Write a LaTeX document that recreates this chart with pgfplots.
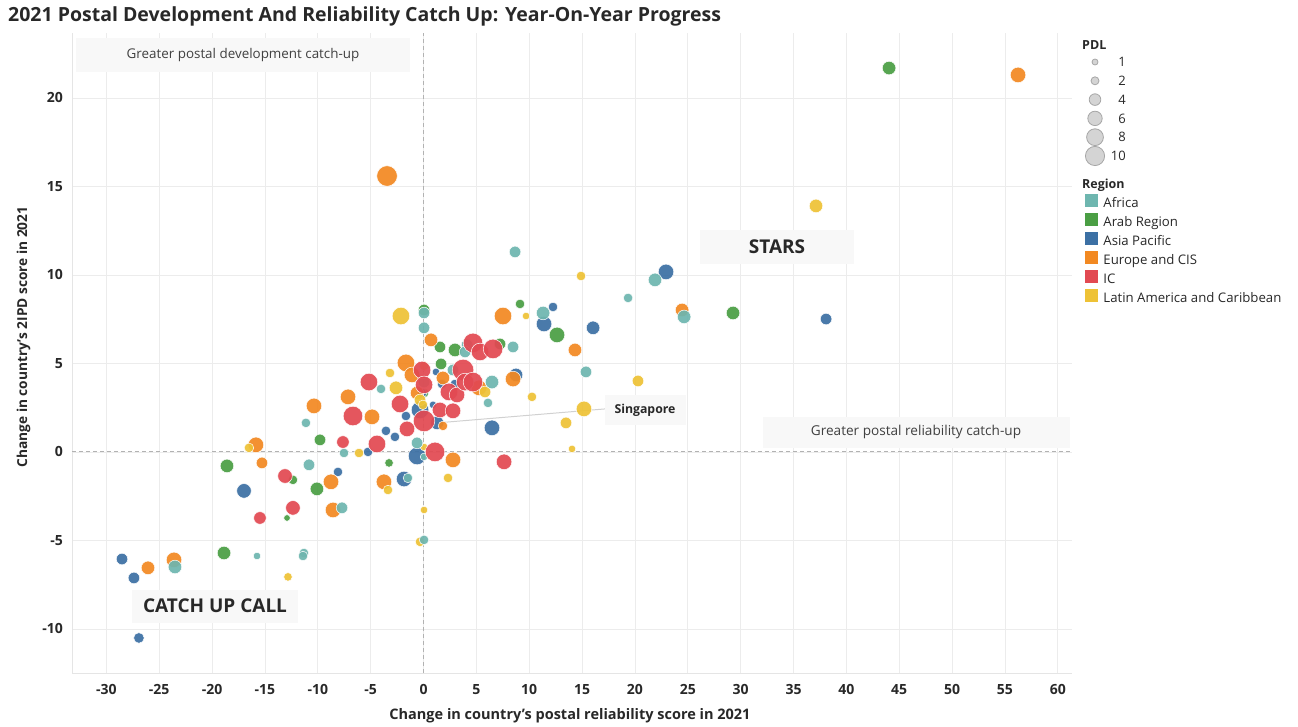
\documentclass[border=0pt]{standalone}
\usepackage{pgfplots}
\pgfplotsset{compat=1.18}
\usepackage{pgfplotstable}
\usepackage{fontspec}
\setmainfont{Open Sans}
\definecolor{africa}{RGB}{110,182,175}
\definecolor{arab}{RGB}{74,158,68}
\definecolor{asia}{RGB}{60,112,164}
\definecolor{europe}{RGB}{242,137,34}
\definecolor{ic}{RGB}{226,73,82}
\definecolor{latin}{RGB}{238,194,54}
\definecolor{boxfill}{RGB}{248,248,248}
\definecolor{txt}{RGB}{40,40,40}
\definecolor{gridc}{RGB}{236,236,236}

\pgfplotstableread{
x y r
-23.51 -6.50 6
-15.75 -5.88 3
-11.31 -5.71 4
-11.40 -5.88 4
-11.12 1.64 4
-10.83 -0.73 5
-7.71 -3.16 5
-7.52 -0.06 4
-4.02 3.56 4
-1.47 -1.47 4
-0.61 0.51 5
0.05 7.85 5
0.05 7.01 5
0.05 3.95 5
0.05 -4.97 4
2.79 4.63 5
4.12 6.05 5
3.93 5.65 5
6.48 3.95 6
6.10 2.77 4
8.47 5.93 5
8.66 11.30 5
11.31 7.85 6
15.37 4.52 5
19.35 8.70 4
21.90 9.72 6
24.65 7.63 6
0.05 -0.28 3
}\tabAfrica

\pgfplotstableread{
x y r
-18.87 -5.71 6
-18.59 -0.79 6
-12.35 -1.58 4
-12.91 -3.73 2.5
-9.79 0.68 5
-10.08 -2.09 6
-3.26 -0.62 3.5
0.05 8.02 5
0.05 3.33 4
1.56 5.93 5
1.66 4.97 5
2.98 5.76 6
7.24 6.10 5
9.13 8.36 4
12.63 6.61 7
29.28 7.85 6
44.04 21.69 6
}\tabArab

\pgfplotstableread{
x y r
-28.52 -6.05 5
-27.39 -7.12 5
-26.92 -10.51 4.5
-16.98 -2.20 6.5
-8.09 -1.13 4
-5.25 0.00 4
-3.55 1.19 4
-2.70 0.85 4
-1.84 -1.53 7
-1.66 2.03 4
-0.33 2.37 8
-0.61 -0.23 8
-0.14 3.33 4
0.90 2.66 3
1.18 4.52 3
1.28 1.64 6
1.75 3.84 4
2.98 3.84 4
6.48 1.36 7
8.75 4.35 6
12.25 8.19 4
11.40 7.23 7
16.04 7.01 6
22.94 10.17 7
38.08 7.51 5
}\tabAsia

\pgfplotstableread{
x y r
-26.06 -6.55 6
-23.60 -6.10 7
-15.85 0.40 7
-15.28 -0.62 5
-10.36 2.60 7
-8.75 -1.69 7
-8.56 -3.28 7
-7.14 3.11 7
-4.87 1.98 7
-3.74 -1.69 7
-3.45 15.59 9.5
-1.66 5.03 8
-1.09 4.35 7
-0.61 3.33 6
0.71 6.33 6
1.84 4.18 6
1.84 1.47 4
2.79 -0.45 7
5.25 3.62 7
7.52 7.68 8
8.47 4.12 7
14.33 5.76 6
24.46 8.02 6
56.24 21.30 7
}\tabEurope

\pgfplotstableread{
x y r
-15.47 -3.73 5.5
-13.10 -1.36 6.5
-12.35 -3.16 6.5
-7.62 0.56 5.5
-6.67 2.03 9
-5.16 3.95 8
-4.40 0.45 8
-2.22 2.71 8
-1.56 1.30 7
-0.14 4.63 8
0.05 3.79 8
0.05 1.75 10
1.09 0.00 9
1.56 2.37 7
2.41 3.39 8
2.79 2.32 7
3.17 3.22 7
3.74 4.63 10
3.93 3.95 8
4.68 3.95 9
4.68 6.16 9
5.35 5.65 8
6.58 5.82 9
7.62 -0.56 7
}\tabIC

\pgfplotstableread{
x y r
-16.51 0.23 4
-12.82 -7.06 3.5
-6.10 -0.06 4
-3.36 -2.15 4
-3.17 4.46 4
-2.60 3.62 6
-2.13 7.68 8
0.05 4.86 4
-0.33 2.94 5
-0.05 2.66 4
0.05 0.28 3
0.05 -3.28 3
-0.33 -5.08 4
2.32 -1.47 4
5.82 3.39 5
9.70 7.68 3
10.26 3.11 4
13.48 1.64 5
14.05 0.17 3
14.90 9.94 4
15.18 2.43 7
20.29 4.01 5
37.13 13.90 6
}\tabLatin

\pgfplotsset{
  bubble/.style={scatter, only marks, mark=*, forget plot,
    scatter/use mapped color={draw=white, fill=#1, fill opacity=0.93, line width=0.5pt},
    visualization depends on={\thisrow{r}+0.8 \as\rad},
    scatter/@pre marker code/.append style={/tikz/mark size=\rad pt}},
  pdl/.style={only marks, mark=*, mark size=#1,
    mark options={fill=black!17, draw=black!35, line width=0.8pt}},
}

\begin{document}
\begin{tikzpicture}
\path[use as bounding box] (0pt,0pt) rectangle (1298pt,726pt);
\begin{axis}[
  at={(72pt,53pt)}, anchor=south west,
  scale only axis, width=1000pt, height=640pt,
  xmin=-33.25, xmax=61.35, ymin=-12.49, ymax=23.67,
  xtick={-30,-25,...,60}, ytick={-10,-5,...,20},
  grid=major, grid style={gridc, line width=0.8pt},
  major tick length=0pt,
  axis x line*=bottom, axis y line*=left,
  axis line style={-, draw=black!10, line width=0.8pt},
  /pgf/number format/assume math mode=true,
  tick label style={font=\bfseries\fontsize{14}{16}\selectfont, text=txt},
  xticklabel style={inner sep=0pt, yshift=-11pt},
  yticklabel style={inner sep=0pt, xshift=-9pt},
  extra x ticks={0}, extra x tick labels={},
  extra x tick style={grid style={black!30, dash pattern=on 4pt off 3pt, line width=1.1pt}},
  extra y ticks={0}, extra y tick labels={},
  extra y tick style={grid style={black!30, dash pattern=on 4pt off 3pt, line width=1.1pt}},
  clip=false,
  legend style={at={(1.013,0.748)}, anchor=north west, draw=none, fill=none,
    inner sep=0pt, outer sep=0pt,
    font=\fontsize{13.2}{15}\selectfont, text=txt,
    nodes={inner sep=0pt, text height=9.5pt, text depth=3pt},
    row sep=2.5pt, /tikz/every odd column/.append style={column sep=6pt}},
  legend cell align=left,
]
\addlegendimage{legend image code/.code={\fill[africa] (0pt,-2pt) rectangle (12pt,10pt);}}
\addlegendentry{Africa}
\addlegendimage{legend image code/.code={\fill[arab] (0pt,-2pt) rectangle (12pt,10pt);}}
\addlegendentry{Arab Region}
\addlegendimage{legend image code/.code={\fill[asia] (0pt,-2pt) rectangle (12pt,10pt);}}
\addlegendentry{Asia Pacific}
\addlegendimage{legend image code/.code={\fill[europe] (0pt,-2pt) rectangle (12pt,10pt);}}
\addlegendentry{Europe and CIS}
\addlegendimage{legend image code/.code={\fill[ic] (0pt,-2pt) rectangle (12pt,10pt);}}
\addlegendentry{IC}
\addlegendimage{legend image code/.code={\fill[latin] (0pt,-2pt) rectangle (12pt,10pt);}}
\addlegendentry{Latin America and Caribbean}

\addplot[bubble=arab] table[x=x,y=y] {\tabArab};
\addplot[bubble=asia] table[x=x,y=y] {\tabAsia};
\addplot[bubble=europe] table[x=x,y=y] {\tabEurope};
\addplot[bubble=latin] table[x=x,y=y] {\tabLatin};
\addplot[bubble=africa] table[x=x,y=y] {\tabAfrica};
\addplot[bubble=ic] table[x=x,y=y] {\tabIC};

\draw[black!18, line width=1pt] (axis cs:1.28,1.64) -- (axis cs:17.17,2.43);
\end{axis}

% PDL size legend
\begin{axis}[
  at={(1075pt,560.6pt)}, anchor=south west,
  scale only axis, width=40pt, height=112.8pt,
  xmin=0, xmax=1, ymin=0.5, ymax=6.5, hide axis, clip=false,
]
\addplot[pdl=3pt] coordinates {(0.5,6)};
\addplot[pdl=4pt] coordinates {(0.5,5)};
\addplot[pdl=5.8pt] coordinates {(0.5,4)};
\addplot[pdl=7.2pt] coordinates {(0.5,3)};
\addplot[pdl=8.4pt] coordinates {(0.5,2)};
\addplot[pdl=9.6pt] coordinates {(0.5,1)};
\begin{scope}[every node/.style={anchor=east, inner sep=0pt, font=\fontsize{13}{15}\selectfont, text=txt}]
\node at (axis cs:0.5,6) [xshift=31pt] {1};
\node at (axis cs:0.5,5) [xshift=31pt] {2};
\node at (axis cs:0.5,4) [xshift=31pt] {4};
\node at (axis cs:0.5,3) [xshift=31pt] {6};
\node at (axis cs:0.5,2) [xshift=31pt] {8};
\node at (axis cs:0.5,1) [xshift=31pt] {10};
\end{scope}
\end{axis}

% legend titles
\node[anchor=base west, font=\bfseries\fontsize{12.5}{14}\selectfont, text=txt, inner sep=0pt] at (1082pt,676.5pt) {PDL};
\node[anchor=base west, font=\bfseries\fontsize{12.5}{14}\selectfont, text=txt, inner sep=0pt] at (1082pt,537.5pt) {Region};

% title
\node[anchor=base west, font=\bfseries\fontsize{19.5}{22}\selectfont, text=txt, inner sep=0pt] at (8pt,704pt) {2021 Postal Development And Reliability Catch Up: Year-On-Year Progress};

% axis titles
\node[anchor=base, font=\bfseries\fontsize{14.5}{17}\selectfont, text=txt, inner sep=0pt] at (570pt,7pt) {Change in country’s postal reliability score in 2021};
\node[anchor=base, rotate=90, font=\bfseries\fontsize{13.7}{16}\selectfont, text=txt, inner sep=0pt] at (27pt,389pt) {Change in country’s 2IPD score in 2021};

% annotation boxes
\fill[boxfill] (76pt,654pt) rectangle (410pt,688pt);
\node[font=\fontsize{13.4}{15}\selectfont, text=black!75] at (243pt,671pt) {Greater postal development catch-up};
\fill[boxfill] (700pt,462pt) rectangle (854pt,496pt);
\node[font=\bfseries\fontsize{19}{22}\selectfont, text=txt] at (777pt,479pt) {STARS};
\fill[boxfill] (763pt,278pt) rectangle (1070pt,309pt);
\node[font=\fontsize{13.6}{15}\selectfont, text=black!75] at (916pt,294pt) {Greater postal reliability catch-up};
\fill[boxfill] (132pt,103pt) rectangle (298pt,136pt);
\node[font=\bfseries\fontsize{19}{22}\selectfont, text=txt] at (215pt,120pt) {CATCH UP CALL};
\fill[boxfill] (605pt,301pt) rectangle (686pt,331pt);
\node[font=\bfseries\fontsize{12.3}{14}\selectfont, text=txt] at (645pt,316pt) {Singapore};
\end{tikzpicture}
\end{document}
